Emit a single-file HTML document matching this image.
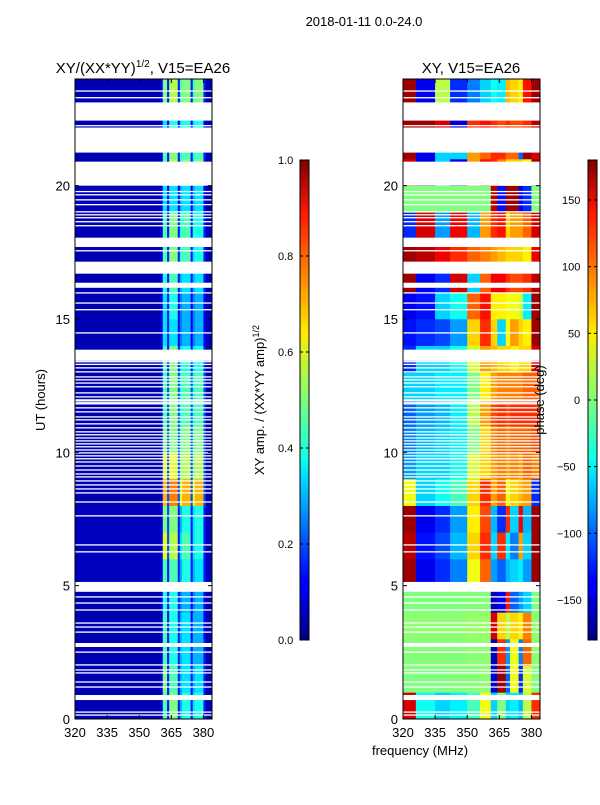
<!DOCTYPE html>
<html><head><meta charset="utf-8">
<style>
body{margin:0;background:#fff;font-family:"Liberation Sans",sans-serif;}
svg text{font-family:"Liberation Sans",sans-serif;}
</style></head>
<body>
<svg id="fig" width="600" height="800" xmlns="http://www.w3.org/2000/svg">
<defs>
<linearGradient id="jet" x1="0" y1="1" x2="0" y2="0">
<stop offset="0" stop-color="#00007f"/><stop offset="0.11" stop-color="#0000ff"/>
<stop offset="0.125" stop-color="#0000ff"/><stop offset="0.34" stop-color="#00dcff"/>
<stop offset="0.375" stop-color="#0dffe9"/><stop offset="0.5" stop-color="#7dff7a"/>
<stop offset="0.64" stop-color="#ffeb00"/><stop offset="0.75" stop-color="#ff8c00"/>
<stop offset="0.89" stop-color="#ff1800"/><stop offset="1" stop-color="#7f0000"/>
</linearGradient>
</defs>
<text x="364" y="26" font-size="13" text-anchor="middle">2018-01-11 0.0-24.0</text>
<text x="143" y="73" font-size="15" text-anchor="middle">XY/(XX*YY)<tspan font-size="10" dy="-6">1/2</tspan><tspan dy="6">, V15=EA26</tspan></text>
<text x="471" y="73" font-size="15" text-anchor="middle">XY, V15=EA26</text>
<g id="left"></g>
<g id="right"></g>
<g id="axes"></g>
<text transform="translate(45,400) rotate(-90)" font-size="13" text-anchor="middle">UT (hours)</text>
<text x="420" y="755" font-size="13" text-anchor="middle">frequency (MHz)</text>
<rect x="300" y="160" width="9" height="480" fill="url(#jet)" stroke="#000" stroke-width="1"/>
<rect x="588" y="160" width="9" height="480" fill="url(#jet)" stroke="#000" stroke-width="1"/>
<text transform="translate(264,400) rotate(-90)" font-size="13" text-anchor="middle">XY amp. / (XX*YY amp)<tspan font-size="9" dy="-5">1/2</tspan></text>
<text transform="translate(544,400) rotate(-90)" font-size="13" text-anchor="middle">phase (deg)</text>
<g id="cbticks"></g>
</svg>
<script>
const hourRows = [0,1,2,3,4,5,6,7,8,9,10,11,12,13,14,15,16,17,18,19,20,21,22,23];
const ampFreqEdges = [320,360,361,363,364,368,369,370,374,375,376,380,381,384];
const phaseFreqEdges = [320,326,335,342,350,356,361,364,368,370,374,376,380,384];
const ampValues = [
[0.05,0.1,0.45,0.15,0.5,0.15,0.3,0.4,0.15,0.35,0.4,0.15,0.05],
[0.05,0.1,0.5,0.15,0.45,0.15,0.3,0.35,0.15,0.3,0.35,0.15,0.05],
[0.05,0.1,0.45,0.15,0.4,0.15,0.3,0.35,0.15,0.3,0.3,0.15,0.05],
[0.05,0.1,0.45,0.15,0.4,0.15,0.3,0.35,0.12,0.3,0.3,0.12,0.05],
[0.05,0.1,0.4,0.15,0.4,0.15,0.25,0.3,0.12,0.25,0.3,0.12,0.05],
[0.06,0.1,0.45,0.15,0.45,0.15,0.3,0.4,0.15,0.3,0.35,0.15,0.06],
[0.06,0.1,0.6,0.2,0.55,0.15,0.35,0.45,0.15,0.35,0.4,0.15,0.06],
[0.06,0.1,0.5,0.2,0.5,0.15,0.3,0.4,0.15,0.35,0.4,0.15,0.06],
[0.05,0.1,0.7,0.2,0.75,0.2,0.6,0.7,0.2,0.6,0.7,0.2,0.05],
[0.05,0.1,0.6,0.2,0.6,0.2,0.5,0.55,0.2,0.5,0.55,0.2,0.05],
[0.05,0.1,0.5,0.2,0.5,0.2,0.45,0.5,0.2,0.45,0.5,0.2,0.05],
[0.05,0.1,0.45,0.2,0.5,0.2,0.4,0.45,0.2,0.4,0.45,0.2,0.05],
[0.05,0.1,0.45,0.2,0.5,0.2,0.4,0.45,0.2,0.4,0.45,0.2,0.05],
[0.05,0.1,0.45,0.15,0.5,0.15,0.35,0.4,0.15,0.35,0.4,0.15,0.05],
[0.05,0.1,0.35,0.15,0.35,0.12,0.25,0.3,0.12,0.25,0.3,0.12,0.05],
[0.05,0.1,0.35,0.15,0.4,0.12,0.25,0.3,0.12,0.25,0.3,0.12,0.05],
[0.05,0.1,0.4,0.15,0.45,0.15,0.3,0.35,0.15,0.3,0.35,0.15,0.05],
[0.05,0.1,0.45,0.15,0.5,0.15,0.4,0.45,0.15,0.35,0.4,0.15,0.05],
[0.05,0.1,0.45,0.15,0.5,0.15,0.4,0.45,0.15,0.4,0.4,0.15,0.05],
[0.06,0.1,0.35,0.12,0.35,0.12,0.3,0.35,0.12,0.3,0.35,0.12,0.05],
[0.05,0.1,0.45,0.15,0.55,0.15,0.4,0.5,0.15,0.4,0.5,0.15,0.05],
[0.05,0.1,0.45,0.15,0.5,0.15,0.4,0.45,0.15,0.4,0.45,0.15,0.05],
[0.05,0.1,0.35,0.12,0.4,0.12,0.35,0.4,0.12,0.35,0.4,0.12,0.05],
[0.05,0.1,0.5,0.15,0.55,0.15,0.45,0.5,0.15,0.45,0.5,0.15,0.05]];
const phaseValues = [
[150,-40,-60,-50,-20,40,-60,0,-60,-50,-70,20,120],
[0,0,0,2,2,5,-150,170,-100,40,-120,30,0],
[2,2,2,2,5,5,-160,120,-80,40,-90,100,5],
[5,5,5,5,8,8,150,60,20,60,50,90,5],
[0,0,0,0,2,2,-160,-140,130,-100,-80,-60,0],
[170,-140,-120,-90,40,100,-80,-100,-70,-60,-50,-80,170],
[160,-130,-110,-70,60,120,-60,120,-50,-90,80,-60,170],
[170,-140,-120,-80,50,110,-70,-120,120,-60,140,-70,170],
[40,-60,-40,-20,60,120,80,100,40,60,70,80,-120],
[-80,-60,-60,-40,30,60,80,90,80,90,80,100,90],
[-90,-70,-60,-50,0,60,90,100,90,100,100,100,110],
[-100,-80,-70,-50,20,80,110,120,110,120,120,120,120],
[-60,-60,-50,-50,0,50,80,90,90,90,90,100,100],
[-120,-60,-60,-40,30,80,70,60,60,50,60,60,150],
[-130,-120,-110,-80,60,120,60,-60,40,80,60,50,170],
[-140,-130,-60,-40,100,130,50,50,40,40,30,-50,170],
[170,-140,-120,150,-60,100,140,140,120,110,110,120,160],
[170,160,140,120,100,90,80,70,60,60,60,50,140],
[-120,150,-80,140,-70,80,120,130,60,80,80,100,150],
[0,0,0,0,0,0,160,-130,170,170,-140,-120,0],
[150,-150,-60,-140,80,130,120,90,60,60,60,40,170],
[170,-140,-60,-60,80,100,120,120,100,100,-100,170,150],
[170,170,150,-150,120,130,120,110,120,110,110,120,160],
[170,-140,20,-120,-90,-60,-40,-50,70,60,50,130,170]];
const gapRanges = [[22.44,23.08],[21.24,22.18],[20.0,20.9],[17.7,18.05],[16.7,17.15],[16.17,16.36],[13.43,13.85],[4.77,5.14],[2.7,2.85],[0.71,0.9]];
const gapLines = [23.55,23.3,23.1,22.25,19.78,19.66,19.47,19.29,19.02,18.91,18.8,18.65,18.5,17.56,15.98,15.6,15.35,14.48,
13.4,13.3,13.17,13.02,12.83,12.72,12.6,12.46,12.23,12.08,11.97,11.86,
11.93,11.82,11.67,11.52,11.33,11.22,11.07,10.92,10.77,10.66,10.54,10.43,10.32,10.21,10.09,9.98,9.87,9.76,9.64,9.49,9.34,9.19,9.08,8.93,8.78,8.63,8.48,
8.14,7.62,6.53,6.27,4.58,4.35,4.09,3.6,3.45,3.26,2.51,2.03,1.84,1.73,1.39,1.2,0.26,0.15];
const xTicks = [320,335,350,365,380];
const yTicks = [0,5,10,15,20];
const ampTicks = [0.0,0.2,0.4,0.6,0.8,1.0];
const phaseTicks = [-150,-100,-50,0,50,100,150];

const NS="http://www.w3.org/2000/svg";
const PANEL_W=137, TOP=79, BOT=719;
function xScale(x0,f){return x0+(f-320)/64*PANEL_W;}
function yScale(h){return BOT-h*(BOT-TOP)/24;}
function jet(v){v=Math.max(0,Math.min(1,v));
 const r=Math.max(0,Math.min(1,1.5-Math.abs(4*v-3))),g=Math.max(0,Math.min(1,1.5-Math.abs(4*v-2))),b=Math.max(0,Math.min(1,1.5-Math.abs(4*v-1)));
 return `rgb(${Math.round(r*255)},${Math.round(g*255)},${Math.round(b*255)})`;}
function mk(tag,attrs,parent){const e=document.createElementNS(NS,tag);for(const k in attrs)e.setAttribute(k,attrs[k]);parent.appendChild(e);return e;}

function drawPanel(gid,x0,edges,vals,norm,name){
 const g=document.getElementById(gid);
 hourRows.forEach((h,i)=>{
  for(let j=0;j<edges.length-1;j++){
   const xa=xScale(x0,edges[j]),xb=xScale(x0,edges[j+1]);
   const r=mk('rect',{x:xa,y:yScale(h+1),width:xb-xa+0.3,height:yScale(h)-yScale(h+1)+0.3,fill:jet(norm(vals[i][j]))},g);
   
   
  }
 });
 gapRanges.forEach(gr=>{
  const r=mk('rect',{x:x0,y:yScale(gr[1]),width:PANEL_W,height:yScale(gr[0])-yScale(gr[1]),fill:'#fff'},g);
  
  
 });
 gapLines.forEach(h=>{
  const r=mk('rect',{x:x0,y:yScale(h)-0.6,width:PANEL_W,height:1.3,fill:'#fff'},g);
  
  
 });
}
drawPanel('left',75,ampFreqEdges,ampValues,v=>v,'amplitude');
drawPanel('right',403,phaseFreqEdges,phaseValues,v=>(v+180)/360,'phase');

const ax=document.getElementById('axes');
[75,403].forEach((x0,p)=>{
 const fr=mk('rect',{x:x0,y:TOP,width:PANEL_W,height:BOT-TOP,fill:'none',stroke:'#000','stroke-width':1},ax);
 
 
 xTicks.forEach(t=>{
  const x=xScale(x0,t);
  mk('line',{x1:x,x2:x,y1:BOT,y2:BOT-4,stroke:'#000'},ax);
  mk('line',{x1:x,x2:x,y1:TOP,y2:TOP+4,stroke:'#000'},ax);
  const tx=mk('text',{x:x,y:737,'font-size':13,'text-anchor':'middle'},ax);
  tx.textContent=t;
  
  
 });
 yTicks.forEach(t=>{
  const y=yScale(t);
  mk('line',{x1:x0,x2:x0+4,y1:y,y2:y,stroke:'#000'},ax);
  mk('line',{x1:x0+PANEL_W,x2:x0+PANEL_W-4,y1:y,y2:y,stroke:'#000'},ax);
  const tx=mk('text',{x:x0-5,y:y+5,'font-size':13,'text-anchor':'end'},ax);
  tx.textContent=t;
  
  
 });
});
const cb=document.getElementById('cbticks');
ampTicks.forEach(t=>{
 const y=640-t*480;
 mk('line',{x1:300,x2:303,y1:y,y2:y,stroke:'#000'},cb);
 mk('line',{x1:306,x2:309,y1:y,y2:y,stroke:'#000'},cb);
 const tx=mk('text',{x:278,y:y+4,'font-size':11},cb);
 tx.textContent=t.toFixed(1);
 
 
});
phaseTicks.forEach(t=>{
 const y=640-(t+180)/360*480;
 mk('line',{x1:588,x2:591,y1:y,y2:y,stroke:'#000'},cb);
 mk('line',{x1:594,x2:597,y1:y,y2:y,stroke:'#000'},cb);
 const tx=mk('text',{x:(t<0?557:(t>=100?562:t>0?568:574)),y:y+4,'font-size':11},cb);
 tx.textContent=t<0?'\u2212'+Math.abs(t):t;
 
 
});
</script>
</body></html>
